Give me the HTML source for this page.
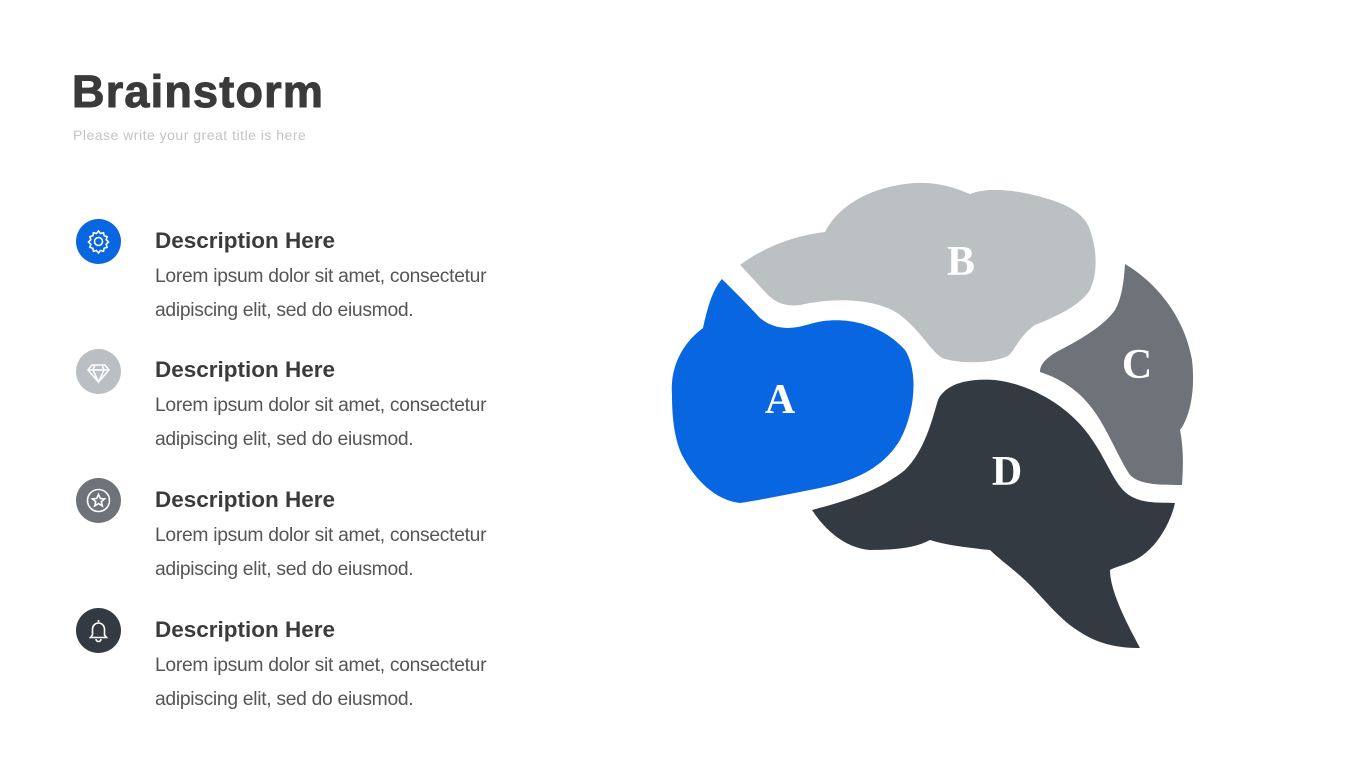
<!DOCTYPE html>
<html><head><meta charset="utf-8"><style>
body{margin:0;width:1365px;height:768px;background:#fff;position:relative;overflow:hidden;font-family:"Liberation Sans",sans-serif}
.t{position:absolute;left:72px;top:66px;font-size:45px;font-weight:900;color:#3a3a3a;letter-spacing:1.2px;-webkit-text-stroke:1px #3a3a3a}
.s{position:absolute;left:73px;top:127px;font-size:14px;color:#c4c4c4;letter-spacing:0.5px}
.ic{position:absolute;left:76px;width:45px;height:45px;border-radius:50%}
.ic svg{width:45px;height:45px}
.h{position:absolute;left:155px;font-size:22.5px;font-weight:bold;color:#3b3b3b}
.b{position:absolute;left:155px;font-size:19.3px;color:#555;line-height:34px;letter-spacing:-0.3px}
</style></head><body>
<div class="t">Brainstorm</div>
<div class="s">Please write your great title is here</div>

<div class="ic" style="top:219px;background:#0866e0"><svg viewBox="0 0 45 45"><g fill="none" stroke="#fff" stroke-width="1.6"><circle cx="22.5" cy="22.5" r="4"/><path d="M22.5 12l2 2.5 3-.8 .6 3 3 1-.9 3 2.3 2.3-2.3 2.3.9 3-3 1-.6 3-3-.8-2 2.5-2-2.5-3 .8-.6-3-3-1 .9-3-2.3-2.3 2.3-2.3-.9-3 3-1 .6-3 3 .8z"/></g></svg></div>
<div class="h" style="top:228px">Description Here</div>
<div class="b" style="top:260px">Lorem ipsum dolor sit amet, consectetur<br>adipiscing elit, sed do eiusmod.</div>

<div class="ic" style="top:349px;background:#b9bfc2"><svg viewBox="0 0 45 45"><g fill="none" stroke="#fff" stroke-width="1.6"><path d="M16 16h13l4 5-10.5 12L12 21z M12 21h21 M19 16l-2 5 5.5 12 5.5-12-2-5"/></g></svg></div>
<div class="h" style="top:357px">Description Here</div>
<div class="b" style="top:389px">Lorem ipsum dolor sit amet, consectetur<br>adipiscing elit, sed do eiusmod.</div>

<div class="ic" style="top:478px;background:#6d7378"><svg viewBox="0 0 45 45"><g fill="none" stroke="#fff" stroke-width="1.6"><circle cx="22.5" cy="22.5" r="11"/><path d="M22.5 16.5l1.8 4 4.3.4-3.3 2.8 1 4.2-3.8-2.3-3.8 2.3 1-4.2-3.3-2.8 4.3-.4z"/></g></svg></div>
<div class="h" style="top:487px">Description Here</div>
<div class="b" style="top:519px">Lorem ipsum dolor sit amet, consectetur<br>adipiscing elit, sed do eiusmod.</div>

<div class="ic" style="top:608px;background:#343a42"><svg viewBox="0 0 45 45"><g fill="none" stroke="#fff" stroke-width="1.6"><path d="M22.5 12v2 M16.5 27v-6a6 6 0 0 1 12 0v6l2 2.5h-16z M20 31a2.5 2.5 0 0 0 5 0"/></g></svg></div>
<div class="h" style="top:617px">Description Here</div>
<div class="b" style="top:649px">Lorem ipsum dolor sit amet, consectetur<br>adipiscing elit, sed do eiusmod.</div>

<svg style="position:absolute;left:0;top:0" width="1365" height="768">
<path fill="#0866e0" d="M722 279 C735 292 748 305 760 318 C775 330 790 330 810 324 C840 315 880 322 905 350 C918 370 916 410 900 440 C885 465 860 480 820 488 C790 494 760 500 740 503 C715 500 695 480 682 455 C675 440 672 420 672 395 C670 370 680 345 703 328 C707 310 712 290 722 279Z"/>
<path fill="#bbc0c3" d="M740 265 C760 250 790 236 825 232 C835 212 860 190 905 184 C935 180 955 188 970 194 C985 188 1010 188 1045 198 C1070 205 1085 215 1090 230 C1097 250 1098 272 1090 290 C1080 305 1060 315 1035 325 C1020 335 1015 350 1008 356 C990 364 960 364 942 358 C930 350 920 330 900 315 C880 300 840 296 800 305 C785 307 775 302 768 295 C760 287 750 275 740 265Z"/>
<path fill="#6d7378" d="M1125 264 C1160 285 1185 320 1192 360 C1196 395 1188 420 1180 430 C1184 450 1183 470 1182 485 C1160 485 1140 485 1130 475 C1120 460 1112 440 1100 420 C1085 395 1065 380 1040 372 C1040 365 1045 358 1060 350 C1080 340 1105 325 1115 310 C1122 298 1124 280 1125 264Z"/>
<path fill="#343a42" d="M812 510 C850 500 880 490 905 470 C925 450 932 420 938 400 C945 385 965 378 995 380 C1030 384 1065 405 1085 430 C1105 455 1112 480 1125 492 C1140 505 1160 502 1175 503 C1170 525 1155 550 1135 560 C1125 565 1115 567 1110 570 C1110 590 1125 620 1140 648 C1120 648 1100 645 1080 632 C1060 620 1045 600 1030 585 C1015 570 1000 560 990 550 C970 548 945 545 930 540 C915 548 895 550 870 550 C845 548 825 530 812 510Z"/>
<g font-family="'Liberation Serif',serif" font-weight="bold" font-size="42" fill="#fff" text-anchor="middle">
<text x="780" y="413">A</text><text x="961" y="275">B</text><text x="1137" y="378">C</text><text x="1007" y="485">D</text>
</g>
</svg>
</body></html>
